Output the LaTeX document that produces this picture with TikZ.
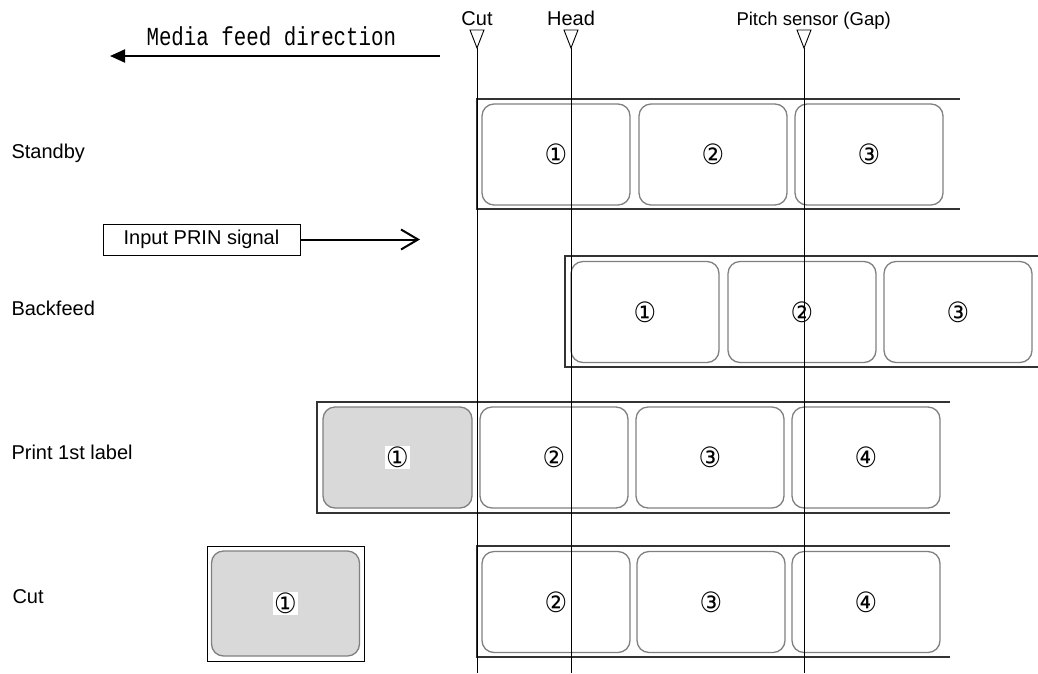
\documentclass[tikz,border=0pt]{standalone}
\usepackage{fontspec}
\setmainfont{Liberation Sans}
\newfontfamily\feedfont[FakeStretch=0.8]{Liberation Mono}
\newfontfamily\circfont[FakeStretch=0.9]{DejaVu Sans}
\usetikzlibrary{arrows.meta, positioning}

\definecolor{labelgray}{HTML}{808080}
\definecolor{tapegray}{HTML}{333333}
\definecolor{printgray}{HTML}{D9D9D9}

\tikzset{
  lbl/.style={draw=labelgray, line width=1.3pt, rounded corners=12pt,
    minimum width=148pt, minimum height=101pt, inner sep=0pt,
    font=\circfont\fontsize{28}{30}\selectfont},
  printed/.style={lbl, fill=printgray},
  numwhite/.style={fill=white, inner sep=1.5pt, font=\circfont\fontsize{28}{30}\selectfont},
  tape/.style={draw=tapegray, line width=1.8pt},
  sensorline/.style={draw=black, line width=0.9pt},
  sensormark/.style={draw=black, line width=0.9pt, fill=white}
}

\begin{document}
\begin{tikzpicture}[x=1pt, y=-1pt, every node/.style={font=\fontsize{20}{24}\selectfont}]
  \useasboundingbox (0,0) rectangle (1038,673);

  % ---------- feed direction ----------
  \node[anchor=base west, font=\feedfont\fontsize{26}{30}\selectfont] (feedtext) at (143,45) {Media feed direction};
  \coordinate (feedstart) at (440,56);
  \coordinate (feedend) at (110,56);
  \draw[line width=2pt, -{Triangle[length=15pt,width=13pt]}] (feedstart) -- (feedend);

  % ---------- row titles ----------
  \node[anchor=base west] (standby) at (8,158) {Standby};
  \node[anchor=base west] (backfeed) at (8,315) {Backfeed};
  \node[anchor=base west] (print) at (8,459) {Print 1st label};
  \node[anchor=base west] (cut) at (9,603) {Cut};

  % ---------- standby ----------
  \draw[tape] (960,99) -- (477,99) -- (477,209) -- (960,209);
  \foreach \n/\x/\t in {1/556/①, 2/713/②, 3/869/③}
    \node[lbl] (sb\n) at (\x,154.5) {\t};

  % ---------- PRIN signal ----------
  \node[draw, line width=0.9pt, minimum width=197pt, minimum height=31pt, inner sep=0pt] (prin) at (201.5,239.5) {Input PRIN signal};
  \coordinate (prinend) at (420,239.5);
  \draw[line width=2pt, -{Straight Barb[length=17pt,width=20pt,line width=2pt]}] (prin.east) -- (prinend);

  % ---------- backfeed ----------
  \draw[tape] (1038,256) -- (565,256) -- (565,367) -- (1038,367);
  \foreach \n/\x/\t in {1/645/①, 2/802/②, 3/958/③}
    \node[lbl] (bf\n) at (\x,312) {\t};

  % ---------- print 1st label ----------
  \draw[tape] (950,402) -- (317,402) -- (317,513) -- (950,513);
  \node[printed, minimum width=149pt] (pr1) at (397.5,457.5) {};
  \node[numwhite] (pr1num) at (pr1) {①};
  \foreach \n/\x/\t in {2/554/②, 3/710/③, 4/866/④}
    \node[lbl] (pr\n) at (\x,457.5) {\t};

  % ---------- cut ----------
  \draw[tape] (950,546) -- (477,546) -- (477,657) -- (950,657);
  \node[draw, line width=0.9pt, minimum width=157pt, minimum height=115pt, inner sep=0pt] (cutbox) at (285.5,603.5) {};
  \node[printed, minimum height=105pt] (ct1) at (cutbox) {};
  \node[numwhite] (ct1num) at (ct1) {①};
  \foreach \n/\x/\t in {2/556/②, 3/711/③, 4/866/④}
    \node[lbl] (ct\n) at (\x,602) {\t};

  % ---------- sensors ----------
  \foreach \name/\x in {cutpos/477, headpos/571, pitchpos/804} {
    \coordinate (\name) at (\x,48);
    \coordinate (\name end) at (\x,673);
    \draw[sensorline] (\name) -- (\name end);
    \draw[sensormark] (\name) -- ++(-7,-18) -- ++(14,0) -- cycle;
  }
  \node[anchor=base] (cutlabel) at (477,25) {Cut};
  \node[anchor=base] (headlabel) at (571,25) {Head};
  \node[anchor=base west, font=\fontsize{18.5}{22}\selectfont] (pitchlabel) at (733,25) {Pitch sensor (Gap)};
\end{tikzpicture}
\end{document}
